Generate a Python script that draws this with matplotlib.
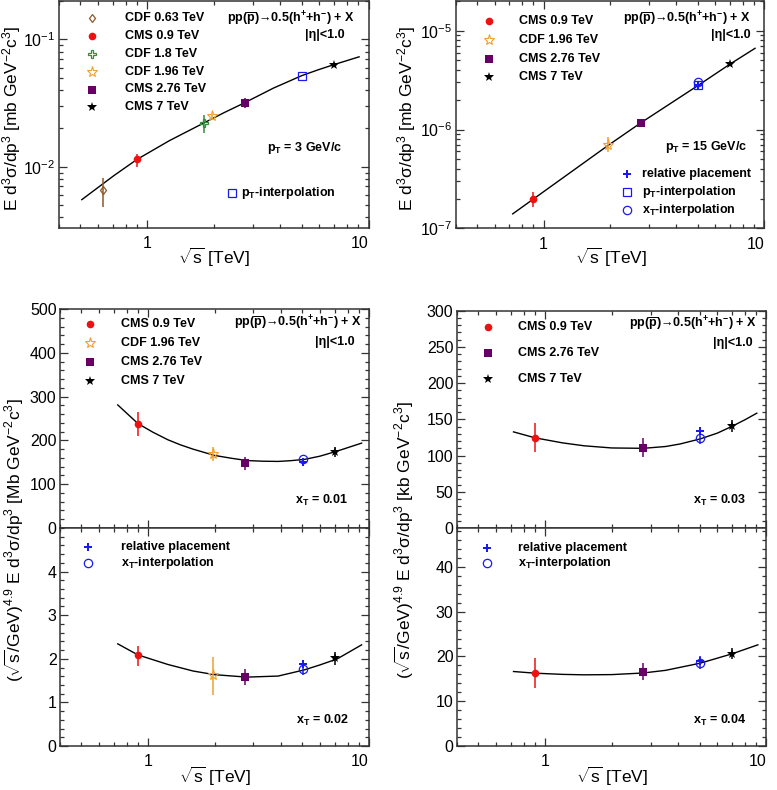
import numpy as np
import matplotlib
matplotlib.use("Agg")
import matplotlib.pyplot as plt
from matplotlib.ticker import (FixedLocator, FixedFormatter, LogLocator,
                               NullFormatter, MultipleLocator)

plt.rcParams["font.family"] = ["Liberation Sans", "DejaVu Sans"]
plt.rcParams["mathtext.fontset"] = "custom"
plt.rcParams["mathtext.rm"] = "Liberation Sans"
plt.rcParams["mathtext.it"] = "Liberation Sans:italic"
plt.rcParams["mathtext.bf"] = "Liberation Sans:bold"
plt.rcParams["mathtext.sf"] = "Liberation Sans"

W, H = 777, 790

# ---------------------------------------------------------------- data
# top-left: pT = 3 GeV/c  [mb GeV^-2 c^3]
TL_LABELS = ["CDF 0.63 TeV", "CMS 0.9 TeV", "CDF 1.8 TeV", "CDF 1.96 TeV",
             "CMS 2.76 TeV", "CMS 7 TeV"]
TL_X = [0.63, 0.9, 1.8, 1.96, 2.76, 7.0]
TL_Y = [0.00652, 0.0114, 0.0220, 0.0248, 0.0316, 0.0634]
TL_LO = [0.00482, 0.00996, 0.0185, 0.0236, 0.0288, 0.0625]
TL_HI = [0.00822, 0.01247, 0.0255, 0.0260, 0.0346, 0.0643]
TL_PTI_X = [5.02]
TL_PTI_Y = [0.0519]
TL_FIT_X = [0.507, 0.708, 0.9, 1.26, 1.8, 2.24, 2.74, 3.72, 5.0, 5.9, 7.0, 9.07]
TL_FIT_Y = [0.00551, 0.00851, 0.0114, 0.0160, 0.0220, 0.0267, 0.0316, 0.0414,
            0.0519, 0.0575, 0.0634, 0.0729]

# top-right: pT = 15 GeV/c
TR_LABELS = ["CMS 0.9 TeV", "CDF 1.96 TeV", "CMS 2.76 TeV", "CMS 7 TeV"]
TR_X = [0.9, 1.96, 2.76, 7.0]
TR_Y = [1.98e-7, 6.93e-7, 1.166e-6, 4.65e-6]
TR_LO = [1.66e-7, 5.93e-7, 1.10e-6, 4.50e-6]
TR_HI = [2.34e-7, 8.40e-7, 1.24e-6, 4.80e-6]
TR_REL_Y = [2.81e-6]
TR_PTI_Y = [2.85e-6]
TR_XTI_Y = [3.03e-6]
TR_FIT_X = [0.725, 0.9, 1.96, 2.76, 5.02, 7.0, 9.08]
TR_FIT_Y = [1.40e-7, 1.98e-7, 6.9e-7, 1.17e-6, 2.8e-6, 4.6e-6, 6.64e-6]

INTERP_X = [5.02]

# bottom-left: scaled cross sections, x_T = 0.01 (upper) and 0.02 (lower)
BL_LABELS = ["CMS 0.9 TeV", "CDF 1.96 TeV", "CMS 2.76 TeV", "CMS 7 TeV"]
BL_X = [0.9, 1.96, 2.76, 7.0]
BLU_Y = [238, 169.6, 149, 174]
BLU_LO = [211, 154, 133, 162]
BLU_HI = [264, 184.6, 163, 184.6]
BLU_REL_Y = [150.4]
BLU_XTI_Y = [158]
BLU_FIT_X = [0.73, 0.9, 1.05, 1.23, 1.4, 1.6, 2.0, 2.4, 2.81, 3.3, 3.88, 4.4,
             5.1, 6.0, 7.17, 9.26]
BLU_FIT_Y = [281, 238.6, 219, 201.5, 190, 180, 165.7, 159, 154, 152.5, 152,
             153.6, 156.6, 164, 175.5, 193.8]

BLL_Y = [2.076, 1.62, 1.58, 2.01]
BLL_LO = [1.825, 1.16, 1.39, 1.86]
BLL_HI = [2.30, 2.05, 1.77, 2.15]
BLL_REL_Y = [1.886]
BLL_XTI_Y = [1.77]
BLL_XTI_LO = [1.62]
BLL_XTI_HI = [1.92]
BLL_FIT_X = [0.73, 0.9, 1.23, 1.6, 2.0, 2.8, 3.88, 5.1, 6.0, 7.17, 9.26]
BLL_FIT_Y = [2.343, 2.09, 1.87, 1.72, 1.636, 1.58, 1.604, 1.746, 1.86, 1.996, 2.32]

# bottom-right: x_T = 0.03 (upper) and 0.04 (lower)
BR_LABELS = ["CMS 0.9 TeV", "CMS 2.76 TeV", "CMS 7 TeV"]
BR_X = [0.9, 2.76, 7.0]
BRU_Y = [124.4, 111.1, 141]
BRU_LO = [105, 98.2, 132.7]
BRU_HI = [144.3, 123.6, 148.9]
BRU_REL_Y = [134.1]
BRU_XTI_Y = [124.4]
BRU_XTI_LO = [115.7]
BRU_XTI_HI = [131.9]
BRU_FIT_X = [0.72, 0.9, 1.2, 1.5, 2.0, 2.78, 3.5, 4.07, 5.02, 6.0, 7.0, 8.0, 9.04]
BRU_FIT_Y = [132.7, 124.5, 117.5, 113.5, 110.5, 110, 112.5, 116, 123, 131, 140.5,
             149.5, 158.5]

BRL_Y = [16.27, 16.64, 20.6]
BRL_LO = [12.9, 14.8, 19.4]
BRL_HI = [19.6, 18.5, 21.9]
BRL_REL_Y = [18.9]
BRL_XTI_Y = [18.5]
BRL_XTI_LO = [17.2]
BRL_XTI_HI = [20.0]
BRL_FIT_X = [0.72, 0.9, 1.2, 1.5, 2.0, 2.76, 3.5, 5.02, 7.0, 9.14]
BRL_FIT_Y = [16.64, 16.27, 16.0, 15.9, 15.95, 16.3, 16.9, 18.5, 20.6, 22.6]

# ---------------------------------------------------------------- styles
STYLE = {
    "CDF 0.63 TeV": dict(marker="d", color="#8b5a2b", mfc="none", ms=4.5, mew=0.9),
    "CMS 0.9 TeV": dict(marker="o", color="#ee1111", mfc="#ee1111", ms=5.5, mew=0),
    "CDF 1.8 TeV": dict(marker="P", color="#3a8a3a", mfc="none", ms=6, mew=0.9),
    "CDF 1.96 TeV": dict(marker="*", color="#f0a030", mfc="none", ms=8, mew=0.8),
    "CMS 2.76 TeV": dict(marker="s", color="#660066", mfc="#660066", ms=5.5, mew=0),
    "CMS 7 TeV": dict(marker="*", color="black", mfc="black", ms=7, mew=0),
}
BLUE = "#1a1aee"
REL = dict(marker="P", color=BLUE, mfc=BLUE, ms=6, mew=0)
PTI = dict(marker="s", color=BLUE, mfc="none", ms=6, mew=0.9)
XTI = dict(marker="o", color=BLUE, mfc="none", ms=6, mew=0.9)

TXT = dict(fontsize=9, fontweight="bold")
SQRT_S = r"$\sqrt{\mathrm{s}}$"


def fx(px):
    return px / W


def fy(py):
    return 1 - py / H


def box(l, t, r, b):
    return [l / W, 1 - b / H, (r - l) / W, (b - t) / H]


def style_axes(ax, xlabels=True):
    ax.set_xscale("log")
    ax.set_xlim(0.4, 10)
    ax.xaxis.set_major_locator(FixedLocator([1, 10]))
    ax.xaxis.set_minor_locator(LogLocator(subs=np.arange(2, 10)))
    ax.xaxis.set_minor_formatter(NullFormatter())
    if xlabels:
        ax.xaxis.set_major_formatter(FixedFormatter(["1", "10"]))
    else:
        ax.xaxis.set_major_formatter(NullFormatter())
    ax.tick_params(which="both", direction="in", top=True, right=True,
                   color="#333333", width=0.9)
    ax.tick_params(which="major", length=6, labelsize=11.5)
    ax.tick_params(axis="x", which="major", pad=6)
    ax.tick_params(axis="y", which="major", pad=2.5)
    ax.tick_params(which="minor", length=3)
    for s in ax.spines.values():
        s.set_linewidth(1.1)
        s.set_color("#333333")
    if xlabels:
        labs = ax.xaxis.get_majorticklabels()
        labs[-1].set_horizontalalignment("right")


def points(ax, x, y, lo, hi, st):
    y = np.asarray(y, float)
    err = [y - np.asarray(lo, float), np.asarray(hi, float) - y]
    ax.errorbar(x, y, yerr=err, fmt="none", ecolor=st["color"],
                elinewidth=1.1, capsize=0, zorder=3)
    ax.plot(x, y, ls="none", zorder=4, **st)


def series(ax, labels, xs, ys, los, his):
    for lab, x, y, lo, hi in zip(labels, xs, ys, los, his):
        points(ax, [x], [y], [lo], [hi], STYLE[lab])


def legend_row(ax, mx, tx, py, label, st):
    ax.plot([fx(mx)], [fy(py)], transform=ax.figure.transFigure,
            clip_on=False, ls="none", **st)
    ax.figure.text(fx(tx), fy(py), label, ha="left", va="center", **TXT)


def header(fig, right1, y1, right2, y2):
    fig.text(fx(right1), fy(y1),
             r"pp($\mathbf{\overline{p}}$)→0.5(h$^{\mathbf{+}}$+h$^{\mathbf{-}}$) + X",
             ha="right", va="center", **TXT)
    fig.text(fx(right2), fy(y2), "|η|<1.0", ha="right", va="center", **TXT)


fig = plt.figure(figsize=(W / 100, H / 100), dpi=100)

# ---------------------------------------------------------------- top-left
ax = fig.add_axes(box(59, 1, 368.5, 228))
style_axes(ax)
ax.set_yscale("log")
ax.set_ylim(0.0033, 0.2)
ax.plot(TL_FIT_X, TL_FIT_Y, color="black", lw=1.0, zorder=2)
series(ax, TL_LABELS, TL_X, TL_Y, TL_LO, TL_HI)
ax.plot(TL_PTI_X, TL_PTI_Y, ls="none", zorder=4, **PTI)
for i, lab in enumerate(TL_LABELS):
    legend_row(ax, 92, 125, 18.3 + i * 17.8, lab, STYLE[lab])
legend_row(ax, 232, 241, 193, r"p$_{\mathbf{T}}$-interpolation", PTI)
header(fig, 355, 19, 345, 35)
fig.text(fx(342), fy(148), r"p$_{\mathbf{T}}$ = 3 GeV/c", ha="right", va="center", **TXT)
fig.text(fx(12), fy(118), r"E d$^{3}$σ/dp$^{3}$ [mb GeV$^{-2}$c$^{3}$]",
         rotation=90, ha="center", va="center", fontsize=12.5)
fig.text(fx(214), fy(257), SQRT_S + " [TeV]", ha="center", va="center", fontsize=12.5)

# ---------------------------------------------------------------- top-right
ax = fig.add_axes(box(455.7, 1, 764.3, 228.3))
style_axes(ax)
ax.set_yscale("log")
ax.set_ylim(1e-7, 2e-5)
ax.plot(TR_FIT_X, TR_FIT_Y, color="black", lw=1.0, zorder=2)
series(ax, TR_LABELS, TR_X, TR_Y, TR_LO, TR_HI)
ax.plot(INTERP_X, TR_PTI_Y, ls="none", zorder=4, **PTI)
ax.plot(INTERP_X, TR_XTI_Y, ls="none", zorder=4, **XTI)
ax.plot(INTERP_X, TR_REL_Y, ls="none", zorder=5, **REL)
for i, lab in enumerate(TR_LABELS):
    legend_row(ax, 489, 519, 20.7 + i * 18.9, lab, STYLE[lab])
legend_row(ax, 627, 642, 174, "relative placement", REL)
legend_row(ax, 627, 642, 192, r"p$_{\mathbf{T}}$-interpolation", PTI)
legend_row(ax, 627, 642, 210, r"x$_{\mathbf{T}}$-interpolation", XTI)
header(fig, 751, 19, 751, 35)
fig.text(fx(747), fy(147), r"p$_{\mathbf{T}}$ = 15 GeV/c", ha="right", va="center", **TXT)
fig.text(fx(407), fy(118), r"E d$^{3}$σ/dp$^{3}$ [mb GeV$^{-2}$c$^{3}$]",
         rotation=90, ha="center", va="center", fontsize=12.5)
fig.text(fx(611), fy(257), SQRT_S + " [TeV]", ha="center", va="center", fontsize=12.5)

# ---------------------------------------------------------------- bottom-left
ax = fig.add_axes(box(60, 309, 369, 528))
style_axes(ax, xlabels=False)
ax.set_ylim(0, 500)
ax.yaxis.set_major_locator(MultipleLocator(100))
ax.yaxis.set_minor_locator(MultipleLocator(20))
ax.plot(BLU_FIT_X, BLU_FIT_Y, color="black", lw=1.0, zorder=2)
series(ax, BL_LABELS, BL_X, BLU_Y, BLU_LO, BLU_HI)
ax.plot(INTERP_X, BLU_XTI_Y, ls="none", zorder=4, **XTI)
ax.plot(INTERP_X, BLU_REL_Y, ls="none", zorder=5, **REL)
for i, lab in enumerate(BL_LABELS):
    legend_row(ax, 90, 121, 324.3 + i * 19, lab, STYLE[lab])
header(fig, 362, 323.3, 355, 342.3)
fig.text(fx(348), fy(500), r"x$_{\mathbf{T}}$ = 0.01", ha="right", va="center", **TXT)

ax = fig.add_axes(box(60, 528, 369, 746))
style_axes(ax)
ax.set_ylim(0, 5)
ax.yaxis.set_major_locator(FixedLocator([0, 1, 2, 3, 4]))
ax.yaxis.set_minor_locator(MultipleLocator(0.2))
ax.plot(BLL_FIT_X, BLL_FIT_Y, color="black", lw=1.0, zorder=2)
series(ax, BL_LABELS, BL_X, BLL_Y, BLL_LO, BLL_HI)
points(ax, INTERP_X, BLL_XTI_Y, BLL_XTI_LO, BLL_XTI_HI, XTI)
ax.plot(INTERP_X, BLL_REL_Y, ls="none", zorder=5, **REL)
legend_row(ax, 88, 121, 546.7, "relative placement", REL)
legend_row(ax, 88, 121, 562.7, r"x$_{\mathbf{T}}$-interpolation", XTI)
fig.text(fx(349), fy(720), r"x$_{\mathbf{T}}$ = 0.02", ha="right", va="center", **TXT)
fig.text(fx(14), fy(540),
         "(" + SQRT_S + r"/GeV)$^{4.9}$ E d$^{3}$σ/dp$^{3}$ [Mb GeV$^{-2}$c$^{3}$]",
         rotation=90, ha="center", va="center", fontsize=12.5)
fig.text(fx(215), fy(776), SQRT_S + " [TeV]", ha="center", va="center", fontsize=12.5)

# ---------------------------------------------------------------- bottom-right
ax = fig.add_axes(box(457, 310.7, 766.5, 528))
style_axes(ax, xlabels=False)
ax.set_ylim(0, 300)
ax.yaxis.set_major_locator(MultipleLocator(50))
ax.yaxis.set_minor_locator(MultipleLocator(10))
ax.plot(BRU_FIT_X, BRU_FIT_Y, color="black", lw=1.0, zorder=2)
series(ax, BR_LABELS, BR_X, BRU_Y, BRU_LO, BRU_HI)
points(ax, INTERP_X, BRU_XTI_Y, BRU_XTI_LO, BRU_XTI_HI, XTI)
ax.plot(INTERP_X, BRU_REL_Y, ls="none", zorder=5, **REL)
for i, lab in enumerate(BR_LABELS):
    legend_row(ax, 488, 518, 327.3 + i * 26, lab, STYLE[lab])
header(fig, 757, 324.3, 753, 343.3)
fig.text(fx(746), fy(500), r"x$_{\mathbf{T}}$ = 0.03", ha="right", va="center", **TXT)

ax = fig.add_axes(box(457, 528, 766.5, 746))
style_axes(ax)
ax.set_ylim(0, 48.7)
ax.yaxis.set_major_locator(FixedLocator([0, 10, 20, 30, 40]))
ax.yaxis.set_minor_locator(MultipleLocator(2))
ax.plot(BRL_FIT_X, BRL_FIT_Y, color="black", lw=1.0, zorder=2)
series(ax, BR_LABELS, BR_X, BRL_Y, BRL_LO, BRL_HI)
points(ax, INTERP_X, BRL_XTI_Y, BRL_XTI_LO, BRL_XTI_HI, XTI)
ax.plot(INTERP_X, BRL_REL_Y, ls="none", zorder=5, **REL)
legend_row(ax, 487, 518, 548.3, "relative placement", REL)
legend_row(ax, 487, 518, 563.3, r"x$_{\mathbf{T}}$-interpolation", XTI)
fig.text(fx(746), fy(720), r"x$_{\mathbf{T}}$ = 0.04", ha="right", va="center", **TXT)
fig.text(fx(404), fy(540),
         "(" + SQRT_S + r"/GeV)$^{4.9}$ E d$^{3}$σ/dp$^{3}$ [kb GeV$^{-2}$c$^{3}$]",
         rotation=90, ha="center", va="center", fontsize=12.5)
fig.text(fx(612), fy(776), SQRT_S + " [TeV]", ha="center", va="center", fontsize=12.5)

fig.savefig("out.png", dpi=100)
